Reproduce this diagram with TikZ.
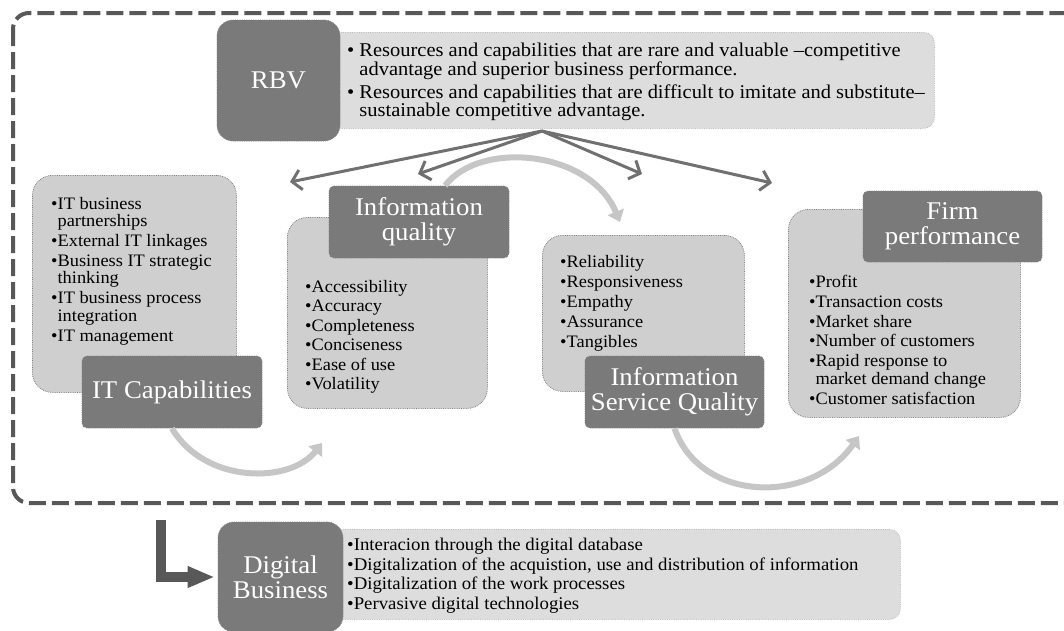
\documentclass[tikz,border=0pt]{standalone}
\usepackage{fontspec}
\setmainfont{Liberation Serif}[FakeStretch=1.05]
\usetikzlibrary{arrows.meta}

\definecolor{framegray}{RGB}{88,88,88}
\definecolor{labelgray}{RGB}{122,122,122}
\definecolor{boxgray}{RGB}{207,207,207}
\definecolor{notegray}{RGB}{221,221,221}
\definecolor{linkgray}{RGB}{112,112,112}
\definecolor{flowgray}{RGB}{198,198,198}

\tikzset{
  framebox/.style={draw=framegray, line width=4pt, dash pattern=on 17pt off 6pt, rounded corners=16pt},
  labelbox/.style={fill=labelgray, draw=gray, densely dotted, line width=0.8pt, rounded corners=5pt,
    text=white, align=center, inner sep=0pt, font=\fontsize{25.5}{25}\selectfont},
  listbox/.style={fill=boxgray, draw=gray, densely dotted, line width=0.8pt, rounded corners=20pt,
    anchor=north west, inner sep=0pt},
  notebox/.style={fill=notegray, draw=notegray!85!black, densely dotted, line width=0.8pt, rounded corners=11pt,
    anchor=north west, inner sep=0pt},
  listtext/.style={anchor=north west, inner sep=0pt, align=left, font=\fontsize{17.5}{17.5}\selectfont},
  linkarrow/.style={draw=linkgray, line width=3pt, -{Straight Barb[length=9pt,width=20pt]}},
  flowarrow/.style={draw=flowgray, line width=6pt, -{Triangle[length=11pt,width=17pt]}}
}

\begin{document}
\begin{tikzpicture}[x=1pt,y=-1pt]
  \useasboundingbox (0,0) rectangle (1064,630);
  \clip (0,0) rectangle (1064,630);

  % Dashed frame round the model
  \draw[framebox] (13,13) rectangle (1080,503);

  % RBV on top
  \node[notebox, minimum width=604pt, minimum height=96pt] (rbvnote) at (330,32) {};
  \node[labelbox, rounded corners=16pt, minimum width=123pt, minimum height=121pt] (rbv) at (278.5,80.5) {RBV};
  \node[listtext, font=\fontsize{19.5}{18.5}\selectfont] (rbvtext) at (347,43)
    {\textbullet\ Resources and capabilities that are rare and valuable –competitive\\
     \phantom{\textbullet\ }advantage and superior business performance.\\[4.5pt]
     \textbullet\ Resources and capabilities that are difficult to imitate and substitute–\\
     \phantom{\textbullet\ }sustainable competitive advantage.};

  % Content boxes
  \node[listbox, minimum width=204pt, minimum height=217pt] (itbox) at (32,175) {};
  \node[listbox, minimum width=200pt, minimum height=191pt] (iqbox) at (287,217) {};
  \node[listbox, minimum width=202pt, minimum height=156pt] (isqbox) at (542,235) {};
  \node[listbox, minimum width=232pt, minimum height=208pt] (firmbox) at (788,209) {};

  \node[listtext] (ittext) at (51,197)
    {\textbullet IT business\\\phantom{\textbullet}partnerships\\[2.3pt]
     \textbullet External IT linkages\\[2.3pt]
     \textbullet Business IT strategic\\\phantom{\textbullet}thinking\\[2.3pt]
     \textbullet IT business process\\\phantom{\textbullet}integration\\[2.3pt]
     \textbullet IT management};
  \node[listtext, font=\fontsize{17.5}{19.5}\selectfont] (iqtext) at (305,280)
    {\textbullet Accessibility\\\textbullet Accuracy\\\textbullet Completeness\\
     \textbullet Conciseness\\\textbullet Ease of use\\\textbullet Volatility};
  \node[listtext, font=\fontsize{17.5}{20}\selectfont] (isqtext) at (560,255)
    {\textbullet Reliability\\\textbullet Responsiveness\\\textbullet Empathy\\
     \textbullet Assurance\\\textbullet Tangibles};
  \node[listtext] (firmtext) at (809,275)
    {\textbullet Profit\\[2.3pt]
     \textbullet Transaction costs\\[2.3pt]
     \textbullet Market share\\[2.3pt]
     \textbullet Number of customers\\[2.3pt]
     \textbullet Rapid response to\\\phantom{\textbullet}market demand change\\[2.3pt]
     \textbullet Customer satisfaction};

  % Labels over the boxes
  \node[labelbox, minimum width=180pt, minimum height=72pt] (itcap) at (172,392) {IT Capabilities};
  \node[labelbox, minimum width=180pt, minimum height=72pt] (infoq) at (419,222) {Information\\quality};
  \node[labelbox, minimum width=179pt, minimum height=72pt] (isq) at (674.5,392) {Information\\Service Quality};
  \node[labelbox, minimum width=179pt, minimum height=71pt] (firm) at (952.5,226.5) {Firm\\performance};

  % Arrows from RBV
  \coordinate (fork) at (542,131);
  \coordinate (toit) at (290,182);
  \coordinate (toiq) at (418,174);
  \coordinate (toisq) at (642,174);
  \coordinate (tofirm) at (772,183);
  \foreach \t in {toit,toiq,toisq,tofirm} {
    \draw[linkarrow] (fork) -- (\t);
  }

  % Light curved arrows between the steps
  \coordinate (itflow) at (322,443);
  \coordinate (iqflow) at (620,222);
  \coordinate (isqflow) at (859,436);
  \draw[flowarrow] (itcap.south) .. controls (205,484) and (290,484) .. (itflow);
  \draw[flowarrow] ([xshift=26pt]infoq.north) .. controls (480,140) and (590,150) .. (iqflow);
  \draw[flowarrow] (isq.south) .. controls (700,502) and (810,506) .. (isqflow);

  % Digital business below the frame
  \node[notebox, minimum width=567pt, minimum height=90pt] (digitalnote) at (333,529) {};
  \node[labelbox, rounded corners=16pt, minimum width=125pt, minimum height=110pt] (digital) at (280.5,577) {Digital\\Business};
  \node[listtext, font=\fontsize{17.9}{19.5}\selectfont] (digitaltext) at (347,538)
    {\textbullet Interacion through the digital database\\
     \textbullet Digitalization of the acquistion, use and distribution of information\\
     \textbullet Digitalization of the work processes\\
     \textbullet Pervasive digital technologies};

  \coordinate (drop) at (161,520);
  \draw[draw=framegray, line width=10pt, -{Triangle[length=27pt,width=20pt]}] (drop) |- ([xshift=-3pt]digital.west);
\end{tikzpicture}
\end{document}
